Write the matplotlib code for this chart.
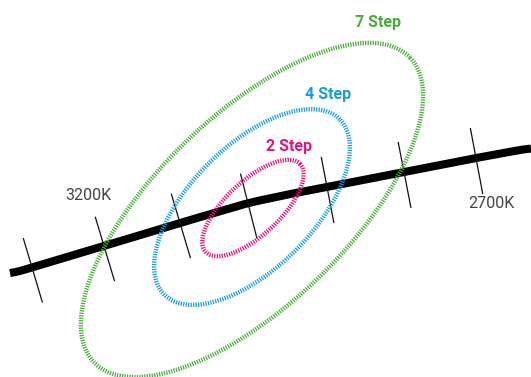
import numpy as np
import matplotlib.pyplot as plt

# black-body locus, traced in pixel space (y grows downward)
locus_x = [10, 104, 180, 248, 290, 327, 404, 476, 531]
locus_y = [274, 246, 223, 203, 194, 187, 172, 158, 148]

# 100K ticks along the locus, 3300K .. 2700K
tick_x = [32, 104, 180, 248, 327, 404, 476]
tick_names = ['3300K', '3200K', '3100K', '3000K', '2900K', '2800K', '2700K']
labelled = {'3200K': (88, 196), '2700K': (491, 204)}

# MacAdam ellipses
steps = ['2 Step', '4 Step', '7 Step']
ell_cx = [253, 252, 252]
ell_cy = [208, 207, 210]
ell_major = [129, 248, 439]
ell_minor = [54, 123, 190]
ell_angle = [43, 45, 44]
step_colors = ['#e4147d', '#1a9ddc', '#4aab3c']
step_label_xy = [(289, 147), (328, 95), (378, 22)]

fig = plt.figure(figsize=(5.31, 3.77), dpi=100)
ax = fig.add_axes([0, 0, 1, 1])
ax.set_xlim(0, 531)
ax.set_ylim(377, 0)
ax.axis('off')

# smooth the traced locus a little
xs = np.linspace(locus_x[0], locus_x[-1], 300)
ys = np.interp(xs, locus_x, locus_y)
k = np.ones(15) / 15
ys_s = np.convolve(np.pad(ys, 7, mode='edge'), k, mode='valid')
ax.plot(xs, ys_s, color='black', linewidth=5.8, solid_capstyle='butt', zorder=2)

# ticks, perpendicular to the locus
tick_len = 66
for tx in tick_x:
    ty = np.interp(tx, xs, ys_s)
    slope = (np.interp(tx + 5, xs, ys_s) - np.interp(tx - 5, xs, ys_s)) / 10
    nx, ny = -slope, 1.0
    norm = np.hypot(nx, ny)
    nx, ny = nx / norm, ny / norm
    off = 3
    x0, y0 = tx + nx * (off - tick_len / 2), ty + ny * (off - tick_len / 2)
    x1, y1 = tx + nx * (off + tick_len / 2), ty + ny * (off + tick_len / 2)
    ax.plot([x0, x1], [y0, y1], color='#111111', linewidth=0.9, zorder=3)

for name, (lx, ly) in labelled.items():
    ax.text(lx, ly, name, ha='center', va='center', fontsize=11.5,
            color='#444444', family='Roboto')

# ellipses drawn as striped bands
t = np.linspace(0, 2 * np.pi, 600)
for i in range(len(steps)):
    a, b = ell_major[i] / 2, ell_minor[i] / 2
    th = np.radians(ell_angle[i])
    x = ell_cx[i] + a * np.cos(t) * np.cos(th) - b * np.sin(t) * np.sin(th)
    y = ell_cy[i] - (a * np.cos(t) * np.sin(th) + b * np.sin(t) * np.cos(th))
    ax.plot(x, y, color=step_colors[i], linewidth=3.2, dashes=(0.28, 0.28),
            solid_capstyle='butt', dash_capstyle='butt', zorder=4)
    lx, ly = step_label_xy[i]
    ax.text(lx, ly, steps[i], ha='center', va='center', fontsize=11.5,
            fontweight='bold', color=step_colors[i], family='Roboto')

fig.savefig('out.png', dpi=100)
